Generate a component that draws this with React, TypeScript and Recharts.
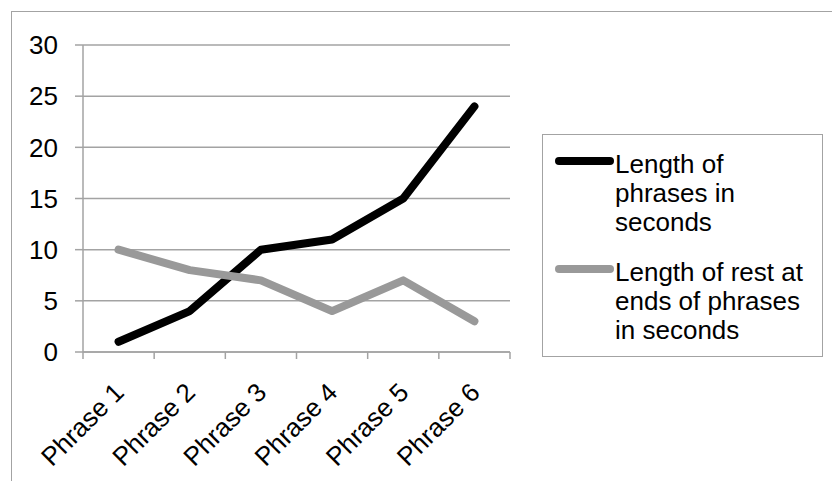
import React from "react";
import { LineChart, Line, XAxis, YAxis, CartesianGrid, Legend } from "recharts";

// Categories and series values
const phrases = ["Phrase 1", "Phrase 2", "Phrase 3", "Phrase 4", "Phrase 5", "Phrase 6"];
const phraseLengths = [1, 4, 10, 11, 15, 24];
const restLengths = [10, 8, 7, 4, 7, 3];

// Axis ticks
const yTicks = [0, 5, 10, 15, 20, 25, 30];

// Series names and colours
const seriesKeys = ["phraseLen", "restLen"];
const seriesNames = ["Length of phrases in seconds", "Length of rest at ends of phrases in seconds"];
const seriesColors = ["#000000", "#999999"];

const data = phrases.map((phrase, i) => ({
  phrase,
  phraseLen: phraseLengths[i],
  restLen: restLengths[i],
}));

const FONT = '"Liberation Sans", Arial, Helvetica, sans-serif';
const GRID = "#a3a3a3";
const FONT_SIZE = 26;
const TICK_LEN = 7;

// Category tick: a tick mark on each band boundary plus the rotated label
const PhraseTick = (props: any) => {
  const { x, y, payload, index, visibleTicksCount, width } = props;
  const half = payload.offset ?? width / visibleTicksCount / 2;
  const left = x - half;
  const right = x + half;
  const ax = x + 7;
  const ly = y + 42;
  return (
    <g>
      <line x1={left} y1={y} x2={left} y2={y + TICK_LEN} stroke={GRID} strokeWidth={1.5} />
      {index === visibleTicksCount - 1 && (
        <line x1={right} y1={y} x2={right} y2={y + TICK_LEN} stroke={GRID} strokeWidth={1.5} />
      )}
      <text
        x={ax}
        y={ly}
        transform={`rotate(-45 ${ax} ${ly})`}
        textAnchor="end"
        fontSize={FONT_SIZE}
        fontFamily={FONT}
        fill="#000"
      >
        {payload.value}
      </text>
    </g>
  );
};

const BoxLegend = () => (
  <div
    style={{
      boxSizing: "border-box",
      width: "100%",
      height: "100%",
      border: `1.5px solid ${GRID}`,
      background: "#fff",
      padding: "15px 0 0 11px",
      fontFamily: FONT,
      fontSize: FONT_SIZE,
      lineHeight: "29px",
      color: "#000",
    }}
  >
    {seriesNames.map((name, i) => (
      <div key={name} style={{ display: "flex", alignItems: "flex-start", marginBottom: 21 }}>
        <svg width={61} height={12} style={{ marginTop: 5, flex: "none" }}>
          <line x1={5} y1={6} x2={56} y2={6} stroke={seriesColors[i]} strokeWidth={8} strokeLinecap="round" />
        </svg>
        <div style={{ width: 200 }}>{name}</div>
      </div>
    ))}
  </div>
);

export default function App() {
  return (
    <div
      style={{
        position: "absolute",
        left: 0,
        top: 0,
        width: 832,
        height: 481,
        overflow: "hidden",
        background: "#fff",
        fontFamily: FONT,
      }}
    >
      <div
        style={{
          position: "absolute",
          left: 11,
          top: 11,
          width: 900,
          height: 600,
          border: `1.5px solid ${GRID}`,
        }}
      />
      <div style={{ position: "absolute", left: 0, top: 0 }}>
        <LineChart
          width={832}
          height={481}
          data={data}
          margin={{ top: 45, right: 322, bottom: 29, left: 0 }}
        >
          <CartesianGrid vertical={false} stroke={GRID} strokeWidth={1.5} />
          <XAxis
            dataKey="phrase"
            type="category"
            scale="band"
            axisLine={{ stroke: GRID, strokeWidth: 1.5 }}
            tickLine={false}
            tickSize={0}
            tickMargin={0}
            height={100}
            interval={0}
            tick={<PhraseTick />}
          />
          <YAxis
            width={83}
            domain={[0, 30]}
            ticks={yTicks}
            tickSize={8}
            tickMargin={17}
            axisLine={{ stroke: GRID, strokeWidth: 1.5 }}
            tickLine={{ stroke: GRID, strokeWidth: 1.5 }}
            tick={{ fontSize: FONT_SIZE, fill: "#000", fontFamily: FONT }}
          />
          {seriesKeys.map((key, i) => (
            <Line
              key={key}
              dataKey={key}
              name={seriesNames[i]}
              stroke={seriesColors[i]}
              strokeWidth={8}
              strokeLinecap="round"
              strokeLinejoin="round"
              dot={false}
              activeDot={false}
              isAnimationActive={false}
            />
          ))}
          <Legend
            layout="vertical"
            align="center"
            verticalAlign="middle"
            content={<BoxLegend />}
            wrapperStyle={{ left: 542, top: 134, width: 281, height: 223 }}
          />
        </LineChart>
      </div>
    </div>
  );
}
